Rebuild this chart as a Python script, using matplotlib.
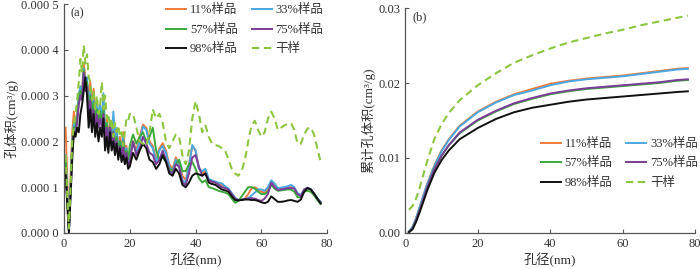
import numpy as np
import matplotlib
matplotlib.use("Agg")
import matplotlib.pyplot as plt

plt.rcParams['font.family'] = ['Liberation Serif', 'Noto Sans CJK SC', 'DejaVu Sans']

# pore size (nm) for the distribution panel
x_a = np.concatenate([np.arange(0.5, 20.01, 0.5), np.arange(21, 79, 1.0)])

# pore volume, units of 1e-4 cm3/g
dry = [1.7, 0.8, 0.1, 1.0, 2.0, 2.4, 2.6, 2.9, 3.3, 3.8, 3.5, 4.1, 3.7, 3.9, 3.4, 3.3, 2.9, 3.1, 2.7, 3.0,
       2.6, 2.8, 3.3, 2.7, 3.0, 2.5, 2.6, 2.3, 2.5, 2.1, 2.4, 2.2, 2.35, 2.1, 2.2, 1.9, 2.2, 2.5, 2.45, 2.6,
       2.6, 2.3, 2.0, 1.95, 1.9, 2.2, 2.7, 2.5, 2.6, 2.4, 2.0, 1.85, 2.0, 2.15, 2.1, 1.7, 1.5, 1.8, 2.5, 2.88,
       2.6, 2.2, 2.35, 2.1, 1.95, 1.92, 1.9, 1.85, 1.8, 1.6, 1.4, 1.3, 1.25, 1.35, 1.6, 2.0, 2.35, 2.45, 2.25, 2.1,
       2.2, 2.5, 2.65, 2.5, 2.25, 2.3, 2.35, 2.38, 2.4, 2.25, 1.95, 1.95, 2.15, 2.28, 2.3, 2.15, 1.85, 1.55]
s11 = [2.3, 1.2, 0.05, 1.2, 2.2, 2.65, 2.4, 2.6, 3.0, 3.2, 3.1, 3.7, 3.4, 3.3, 2.9, 3.3, 2.8, 3.15, 2.6, 2.8,
       2.5, 2.75, 2.5, 2.6, 2.2, 2.5, 2.1, 2.4, 2.1, 2.3, 2.0, 2.2, 1.9, 2.1, 1.8, 2.2, 1.85, 1.9, 1.6, 1.7,
       2.0, 1.8, 2.1, 2.37, 2.3, 2.0, 1.9, 1.6, 1.85, 1.96, 1.8, 1.5, 1.4, 1.65, 1.5, 1.25, 1.15, 1.5, 1.9, 1.8,
       1.4, 1.3, 1.35, 1.15, 1.12, 1.1, 1.08, 1.05, 1.0, 0.95, 0.85, 0.75, 0.72, 0.73, 0.75, 0.85, 0.97, 1.0, 0.95, 0.9,
       0.88, 0.95, 1.1, 1.05, 0.95, 0.96, 0.97, 0.99, 1.0, 0.98, 0.85, 0.82, 0.95, 0.98, 0.95, 0.85, 0.75, 0.68]
s33 = [1.7, 0.9, 0.05, 1.0, 2.0, 2.4, 2.3, 2.5, 3.0, 3.2, 3.0, 3.6, 3.3, 3.4, 2.8, 3.1, 2.7, 2.9, 2.5, 2.8,
       2.6, 2.8, 2.4, 3.05, 2.3, 2.4, 2.1, 2.3, 2.0, 2.65, 2.1, 2.3, 1.9, 2.0, 1.8, 2.1, 1.75, 1.85, 1.55, 1.75,
       1.95, 1.75, 2.0, 2.33, 2.25, 1.95, 1.85, 1.55, 1.8, 1.9, 1.75, 1.45, 1.35, 1.6, 1.45, 1.15, 1.1, 1.45, 1.92, 1.8,
       1.4, 1.35, 1.4, 1.18, 1.15, 1.12, 1.1, 1.08, 1.02, 0.97, 0.87, 0.77, 0.72, 0.73, 0.74, 0.76, 0.82, 0.88, 0.95, 0.95,
       0.92, 1.0, 1.15, 1.08, 0.98, 0.99, 1.0, 1.02, 1.05, 1.0, 0.87, 0.83, 0.95, 0.99, 0.96, 0.86, 0.76, 0.68]
s57 = [1.6, 0.8, 0.05, 1.0, 1.9, 2.3, 2.3, 2.5, 2.9, 3.1, 3.0, 3.55, 3.2, 3.3, 2.8, 3.0, 2.6, 2.85, 2.5, 2.7,
       2.4, 2.65, 2.4, 2.7, 2.2, 2.4, 2.0, 2.3, 2.0, 2.2, 1.9, 2.1, 1.8, 2.0, 1.75, 2.0, 1.7, 1.8, 1.6, 1.9,
       2.15, 1.95, 2.1, 2.2, 2.0, 2.1, 2.3, 1.8, 1.6, 1.65, 1.55, 1.4, 1.35, 1.5, 1.6, 1.35, 1.35, 1.5, 1.55, 1.4,
       1.2, 1.1, 1.15, 1.0, 0.98, 0.95, 0.92, 0.9, 0.88, 0.85, 0.75, 0.66, 0.7, 0.8, 0.9, 1.0, 1.0, 0.97, 0.9, 0.85,
       0.85, 0.9, 1.05, 0.97, 0.92, 0.93, 0.94, 0.95, 0.95, 0.9, 0.78, 0.78, 0.9, 0.92, 0.9, 0.82, 0.72, 0.63]
s75 = [1.4, 0.7, 0.05, 0.9, 1.8, 2.2, 2.2, 2.4, 2.8, 3.0, 2.9, 3.5, 3.1, 3.2, 2.5, 2.9, 2.4, 2.7, 2.3, 2.6,
       2.3, 2.5, 2.3, 2.6, 2.0, 2.3, 1.9, 2.4, 1.9, 2.2, 1.8, 2.0, 1.7, 1.9, 1.65, 1.9, 1.6, 1.75, 1.45, 1.55,
       2.0, 1.7, 1.85, 2.1, 1.95, 1.75, 1.7, 1.5, 1.6, 1.8, 1.6, 1.35, 1.3, 1.5, 1.45, 1.1, 1.05, 1.3, 1.65, 1.7,
       1.45, 1.25, 1.3, 1.15, 1.12, 1.1, 1.05, 1.0, 0.98, 0.95, 0.85, 0.75, 0.72, 0.72, 0.74, 0.75, 0.76, 0.75, 0.72, 0.7,
       0.75, 0.85, 1.1, 1.0, 0.94, 0.95, 0.96, 0.98, 0.98, 0.97, 0.85, 0.8, 0.95, 0.98, 0.95, 0.86, 0.75, 0.65]
s98 = [1.3, 0.6, 0.0, 0.8, 1.6, 2.2, 2.1, 2.3, 2.2, 2.6, 2.8, 3.1, 3.4, 3.0, 2.3, 2.7, 2.2, 2.6, 2.1, 2.4,
       2.0, 2.3, 2.1, 2.5, 1.8, 2.1, 1.75, 2.2, 1.8, 2.0, 1.7, 1.95, 1.6, 1.85, 1.55, 1.7, 1.5, 1.65, 1.4, 1.45,
       1.75, 1.6, 1.8, 1.95, 1.85, 1.6, 1.55, 1.4, 1.5, 1.7, 1.55, 1.3, 1.25, 1.4, 1.3, 1.05, 1.0, 1.1, 1.25, 1.3,
       1.28, 1.25, 1.3, 1.1, 1.07, 1.05, 1.0, 0.95, 0.93, 0.9, 0.8, 0.72, 0.71, 0.72, 0.73, 0.73, 0.72, 0.72, 0.7, 0.67,
       0.65, 0.68, 0.8, 0.74, 0.68, 0.68, 0.69, 0.71, 0.72, 0.7, 0.68, 0.73, 0.9, 0.98, 0.95, 0.86, 0.75, 0.65]

# cumulative pore volume (cm3/g)
x_b = [1, 2, 3, 4, 5, 6, 8, 10, 12, 15, 20, 25, 30, 35, 40, 45, 50, 55, 60, 65, 70, 75, 78]
c_dry = [0.0031, 0.0036, 0.0046, 0.0061, 0.0078, 0.0095, 0.0125, 0.0145, 0.0160, 0.0177, 0.0197, 0.0213,
         0.0227, 0.0237, 0.0246, 0.0254, 0.0260, 0.0266, 0.0271, 0.0277, 0.0282, 0.0287, 0.0290]
c11 = [0.0002, 0.0008, 0.0020, 0.0035, 0.0050, 0.0065, 0.0090, 0.0110, 0.0125, 0.0143, 0.0162, 0.0175,
       0.0185, 0.0192, 0.0199, 0.0203, 0.0206, 0.0208, 0.0210, 0.0213, 0.0216, 0.0219, 0.0220]
c33 = [0.0002, 0.0008, 0.0020, 0.0035, 0.0050, 0.0064, 0.0089, 0.0109, 0.0124, 0.0142, 0.0161, 0.0174,
       0.0184, 0.0190, 0.0197, 0.0202, 0.0205, 0.0207, 0.0209, 0.0212, 0.0215, 0.0218, 0.0219]
c57 = [0.0001, 0.0006, 0.0017, 0.0031, 0.0045, 0.0060, 0.0085, 0.0103, 0.0117, 0.0133, 0.0150, 0.0162,
       0.0172, 0.0179, 0.0185, 0.0189, 0.0192, 0.0194, 0.0196, 0.0198, 0.0200, 0.0203, 0.0204]
c75 = [0.0001, 0.0006, 0.0017, 0.0031, 0.0045, 0.0060, 0.0085, 0.0103, 0.0117, 0.0134, 0.0151, 0.0163,
       0.0173, 0.0180, 0.0186, 0.0190, 0.0193, 0.0195, 0.0197, 0.0199, 0.0201, 0.0204, 0.0205]
c98 = [0.0001, 0.0005, 0.0015, 0.0028, 0.0042, 0.0056, 0.0080, 0.0097, 0.0110, 0.0125, 0.0140, 0.0152,
       0.0161, 0.0167, 0.0171, 0.0175, 0.0178, 0.0180, 0.0182, 0.0184, 0.0186, 0.0188, 0.0189]

labels = ['11%样品', '33%样品', '57%样品', '75%样品', '98%样品', '干样']
colors = ['#f47b3a', '#4aa7e0', '#3aa83a', '#7a3d98', '#111111', '#8cc63f']
# legend is filled row by row in the reference
order = [0, 2, 4, 1, 3, 5]

txt = '#333333'
fig = plt.figure(figsize=(7.0, 2.69), dpi=100)
ax1 = fig.add_axes([0.0914, 0.134, 0.376, 0.851])
ax2 = fig.add_axes([0.579, 0.134, 0.414, 0.836])


def draw(ax, x, series):
    lines = []
    for vals, lab, c in zip(series, labels, colors):
        if lab == '干样':
            ln, = ax.plot(x, vals, color=c, ls='--', dashes=(3.5, 2.2), lw=1.5, label=lab)
        else:
            ln, = ax.plot(x, vals, color=c, lw=1.4, label=lab)
        lines.append(ln)
    return lines


lines_a = draw(ax1, x_a, [np.array(v) * 1e-4 for v in [s11, s33, s57, s75, s98, dry]])
lines_b = draw(ax2, x_b, [c11, c33, c57, c75, c98, c_dry])

for ax in (ax1, ax2):
    ax.spines['top'].set_visible(False)
    ax.spines['right'].set_visible(False)
    for s in ('left', 'bottom'):
        ax.spines[s].set_color('#555555')
        ax.spines[s].set_linewidth(0.9)
    ax.tick_params(direction='in', length=3, width=0.8, colors='#555555',
                   labelsize=9, labelcolor=txt)
    ax.set_xlim(0, 80)
    ax.set_xticks([0, 20, 40, 60, 80])
    ax.set_xlabel('孔径(nm)', fontsize=9.5, color=txt, labelpad=2)

leg_kw = dict(ncol=2, frameon=False, fontsize=9, handlelength=1.6, handletextpad=0.3,
              columnspacing=1.1, labelspacing=0.6, labelcolor=txt, borderaxespad=0)

ax1.set_ylim(0, 0.0005)
ax1.set_yticks([0, 0.0001, 0.0002, 0.0003, 0.0004, 0.0005])
ax1.set_yticklabels(['0.000 0', '0.000 1', '0.000 2', '0.000 3', '0.000 4', '0.000 5'])
ax1.set_ylabel('孔体积(cm³/g)', fontsize=9.5, color=txt, labelpad=2)
ax1.text(0.025, 0.985, '(a)', transform=ax1.transAxes, fontsize=9, color=txt, va='top')
ax1.legend([lines_a[i] for i in order], [labels[i] for i in order],
           loc='upper left', bbox_to_anchor=(0.37, 1.02), **leg_kw)

ax2.set_ylim(0, 0.03)
ax2.set_yticks([0, 0.01, 0.02, 0.03])
ax2.set_yticklabels(['0.00', '0.01', '0.02', '0.03'])
ax2.set_ylabel('累计孔体积(cm³/g)', fontsize=9.5, color=txt, labelpad=2)
ax2.text(0.025, 0.985, '(b)', transform=ax2.transAxes, fontsize=9, color=txt, va='top')
ax2.legend([lines_b[i] for i in order], [labels[i] for i in order],
           loc='upper left', bbox_to_anchor=(0.45, 0.445), **leg_kw)

fig.savefig('out.png', dpi=100)
